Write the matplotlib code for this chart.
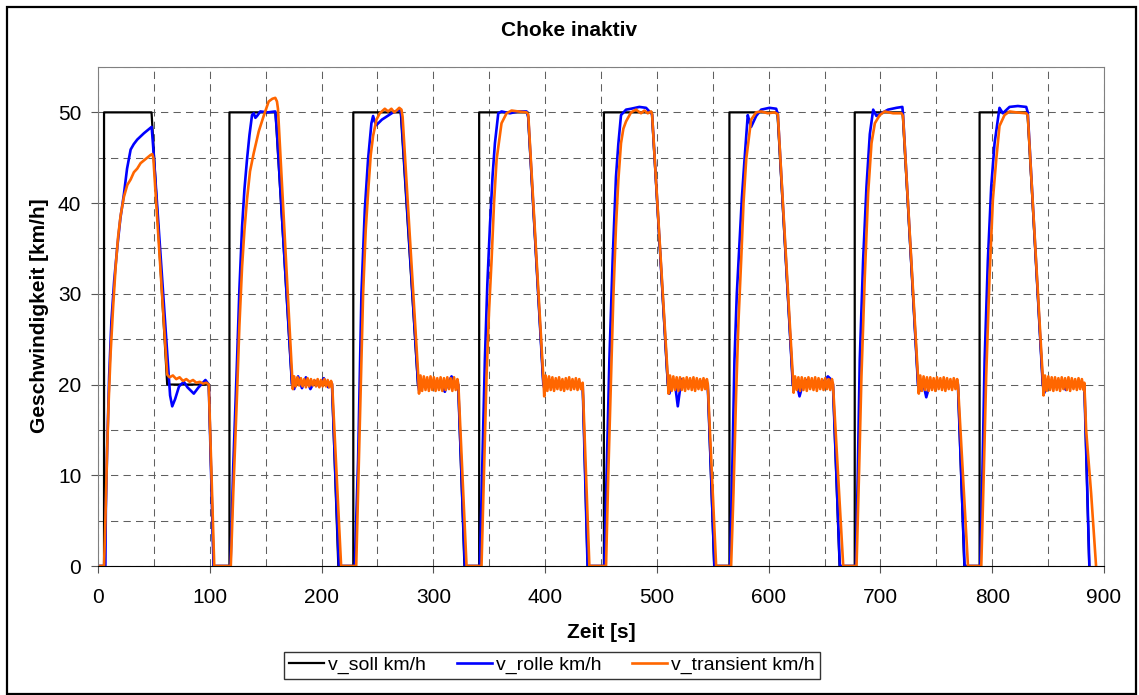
import matplotlib
matplotlib.use("Agg")
import matplotlib.pyplot as plt
import numpy as np
from matplotlib.patches import Rectangle
from matplotlib.ticker import MultipleLocator

plt.rcParams['font.family'] = ['Liberation Sans', 'DejaVu Sans']

# Sollgeschwindigkeit (t [s], v [km/h])
soll_pts = [
    (0, 0), (5.4, 0), (5.4, 50), (47.9, 50), (61.9, 20), (99.1, 20), (103.4, 0),
    (117.6, 0), (117.6, 50), (158.8, 50), (173.5, 20), (209.3, 20), (215.0, 0),
    (228.4, 0), (228.4, 50), (270.8, 50), (286.2, 20), (322.2, 20), (327.8, 0),
    (341.0, 0), (341.0, 50), (384.5, 50), (398.4, 20), (433.6, 20), (438.0, 0),
    (452.6, 0), (452.6, 50), (495.5, 50), (509.7, 20), (545.5, 20), (551.2, 0),
    (564.9, 0), (564.9, 50), (607.8, 50), (621.6, 20), (657.5, 20), (663.4, 0),
    (677.0, 0), (677.0, 50), (719.8, 50), (733.6, 20), (769.3, 20), (775.0, 0),
    (788.7, 0), (788.7, 50), (831.5, 50), (845.2, 20), (882.4, 20), (886.8, 0),
]

# Rollengeschwindigkeit
rolle_pts = [
    (0, 0), (6.6, 0), (7.0, 6.2), (8.2, 13.0), (10.0, 21.0), (12.0, 27.0), (14.5, 31.5),
    (17.3, 35.2), (20.0, 38.3), (23.2, 41.0), (26.0, 43.8), (29.2, 45.9), (32.0, 46.5),
    (35.1, 47.0), (41.1, 47.7), (45.0, 48.1), (48.0, 48.4), (49.2, 46.5), (64.5, 18.8),
    (66.4, 17.6), (69.0, 18.4), (72.5, 19.8), (76.8, 20.3), (80.0, 19.7), (85.7, 19.0),
    (90.0, 19.7), (96.1, 20.5), (99.1, 20.0), (103.4, 0), (118.5, 0),
    (121.0, 11.0), (124.4, 22.7), (126.5, 30.5), (128.9, 37.4), (131.0, 41.5), (133.3, 44.8),
    (135.5, 47.5), (137.8, 49.7), (139.3, 49.9), (140.8, 49.4), (142.3, 49.6), (145.2, 50.1),
    (152.0, 50.0), (158.6, 50.1), (160.0, 48.0), (173.5, 20.1), (175.5, 19.5), (179.0, 20.9),
    (182.5, 19.6), (186.0, 20.8), (190.0, 19.5), (194.0, 20.4), (198.0, 19.8), (202.0, 20.7),
    (206.0, 19.7), (209.3, 20.1), (215.5, 0), (229.7, 0),
    (232.7, 11.7), (235.7, 30.1), (238.7, 39.3), (241.6, 44.8), (244.6, 48.8), (246.1, 49.6),
    (247.5, 49.0), (249.1, 48.6), (254.0, 49.2), (259.0, 49.6), (264.0, 50.0), (268.0, 50.2),
    (270.5, 50.3), (271.5, 49.5), (286.4, 20.0), (287.3, 19.3), (290.0, 20.3), (295.0, 20.0),
    (300.0, 20.4), (305.0, 19.9), (308.5, 19.6), (310.3, 19.2), (312.5, 20.0), (316.3, 20.9),
    (319.0, 20.2), (322.2, 20.0), (328.2, 0), (341.6, 0),
    (343.8, 11.0), (346.1, 22.7), (348.3, 31.0), (350.6, 37.4), (353.0, 43.0), (355.1, 46.6),
    (358.1, 49.9), (361.0, 50.1), (368.5, 49.9), (376.0, 50.1), (383.4, 50.1), (384.9, 49.5),
    (398.4, 20.0), (400.0, 19.3), (403.0, 20.5), (410.0, 20.0), (420.0, 20.3), (430.0, 19.9),
    (433.6, 20.0), (438.0, 0), (453.0, 0),
    (455.0, 10.0), (457.5, 22.7), (459.0, 28.5), (460.4, 33.7), (463.4, 42.9), (465.5, 46.5),
    (467.9, 49.7), (472.4, 50.3), (476.9, 50.4), (484.3, 50.6), (490.3, 50.5), (493.3, 50.1),
    (495.7, 49.8), (509.7, 20.3), (511.2, 19.0), (513.5, 20.4), (516.5, 19.8), (518.7, 17.6),
    (520.5, 19.3), (522.5, 20.6), (525.0, 20.2), (530.0, 20.4), (535.0, 20.0), (540.0, 20.3),
    (545.5, 20.0), (551.5, 0), (565.5, 0),
    (567.5, 11.0), (569.4, 22.7), (571.5, 30.0), (573.9, 35.6), (576.0, 40.5), (578.4, 44.8),
    (581.3, 49.7), (582.8, 49.0), (584.3, 48.4), (588.8, 49.6), (593.3, 50.3), (600.7, 50.5),
    (606.7, 50.4), (608.2, 49.8), (621.6, 20.0), (622.5, 19.5), (625.0, 20.2), (627.6, 18.7),
    (630.0, 19.8), (633.0, 20.5), (640.0, 20.2), (647.0, 20.0), (653.0, 20.9), (655.5, 20.6),
    (657.5, 20.0), (663.7, 0), (678.0, 0),
    (679.7, 10.0), (681.5, 22.7), (684.5, 33.7), (687.5, 41.8), (690.5, 47.6), (693.5, 50.3),
    (696.4, 49.6), (700.9, 49.9), (706.8, 50.3), (714.3, 50.5), (719.6, 50.6), (720.2, 49.8),
    (733.6, 20.0), (735.0, 19.3), (738.0, 20.3), (741.0, 18.6), (743.0, 19.5), (746.0, 20.3),
    (752.0, 20.0), (758.0, 20.3), (764.0, 19.9), (769.3, 20.0), (775.3, 0), (789.3, 0),
    (791.2, 10.0), (793.2, 22.7), (796.1, 33.7), (799.1, 41.8), (802.1, 46.6), (806.5, 50.5),
    (809.5, 49.9), (815.5, 50.6), (822.9, 50.7), (830.4, 50.6), (831.8, 50.0), (845.2, 20.0),
    (846.7, 19.1), (849.0, 20.3), (855.0, 19.9), (860.0, 20.4), (866.0, 19.4), (868.0, 20.2),
    (875.0, 20.0), (882.4, 20.0), (886.9, 0),
]

# transiente Geschwindigkeit
trans_pts = [
    (0, 0), (5.4, 0), (6.6, 5.0), (8.0, 12.0), (9.5, 18.0), (11.3, 23.5), (13.5, 28.5),
    (15.8, 33.0), (18.0, 36.3), (20.2, 38.6), (23.2, 40.7), (26.2, 42.0), (29.2, 42.6),
    (32.1, 43.4), (35.1, 43.8), (38.1, 44.4), (41.1, 44.7), (44.0, 45.0), (47.0, 45.3),
    (48.5, 45.4), (49.5, 45.0), (61.9, 21.1), (64.0, 20.8), (67.0, 21.0), (70.0, 20.6),
    (73.0, 20.8), (76.0, 20.4), (79.0, 20.6), (82.0, 20.3), (85.0, 20.5), (88.0, 20.2),
    (91.0, 20.3), (94.0, 20.1), (97.0, 20.2), (99.1, 20.0), (104.0, 0), (118.8, 0),
    (121.0, 8.0), (124.4, 19.0), (126.5, 26.5), (128.9, 33.0), (131.0, 37.0), (133.3, 40.4),
    (136.0, 43.5), (139.3, 45.5), (143.8, 47.9), (148.2, 49.6), (152.7, 51.2), (156.0, 51.5),
    (158.6, 51.6), (160.1, 51.2), (161.0, 50.4), (173.5, 21.2), (174.3, 19.5), (175.5, 20.9),
    (177.0, 19.8), (178.5, 20.8), (180.0, 19.9), (181.5, 20.7), (183.0, 19.8), (184.5, 20.6),
    (186.0, 19.7), (187.5, 20.7), (189.0, 19.8), (190.5, 20.6), (192.0, 19.9), (193.5, 20.5),
    (195.0, 19.8), (196.5, 20.6), (198.0, 19.7), (199.5, 20.5), (201.0, 19.8), (202.5, 20.6),
    (204.0, 19.8), (205.5, 20.5), (207.0, 19.7), (208.5, 20.4), (209.5, 20.0), (217.5, 0),
    (231.0, 0),
    (234.2, 15.4), (237.2, 30.1), (239.5, 37.0), (241.6, 41.1), (244.0, 45.3), (246.1, 47.4),
    (249.1, 49.2), (252.1, 49.9), (256.6, 50.4), (259.5, 50.1), (262.5, 50.4), (265.0, 50.0),
    (267.0, 50.2), (269.5, 50.5), (271.5, 50.3), (272.5, 49.5), (286.4, 21.2), (287.2, 19.0),
    (288.5, 21.0), (290.0, 19.3), (291.5, 20.9), (293.0, 19.4), (294.5, 20.8), (296.0, 19.3),
    (297.5, 20.9), (299.0, 19.4), (300.5, 20.8), (302.0, 19.3), (303.5, 20.7), (305.0, 19.4),
    (306.5, 20.8), (308.0, 19.3), (309.5, 20.7), (311.0, 19.4), (312.5, 20.8), (314.0, 19.5),
    (315.5, 20.7), (317.0, 19.3), (318.5, 20.8), (320.0, 19.4), (321.5, 20.6), (322.4, 20.0),
    (329.7, 0), (343.1, 0),
    (345.3, 10.0), (347.6, 20.9), (349.8, 28.0), (352.1, 33.7), (354.3, 40.0), (356.6, 44.8),
    (361.0, 48.8), (365.5, 49.9), (370.0, 50.2), (376.0, 50.1), (383.4, 50.0), (384.9, 49.8),
    (398.4, 20.8), (399.2, 18.7), (400.5, 21.0), (402.0, 19.3), (403.5, 20.9), (405.0, 19.4),
    (406.5, 20.8), (408.0, 19.3), (409.5, 20.7), (411.0, 19.5), (412.5, 20.8), (414.0, 19.4),
    (415.5, 20.6), (417.0, 19.3), (418.5, 20.7), (420.0, 19.5), (421.5, 20.8), (423.0, 19.4),
    (424.5, 20.6), (426.0, 19.5), (427.5, 20.7), (429.0, 19.4), (430.5, 20.6), (432.0, 19.5),
    (433.6, 20.2), (439.6, 0), (454.5, 0),
    (456.5, 10.0), (459.0, 20.9), (461.0, 29.5), (463.4, 37.4), (465.5, 42.5), (467.9, 46.6),
    (470.0, 48.2), (472.4, 49.0), (476.9, 50.0), (481.3, 50.3), (485.8, 49.9), (488.8, 50.2),
    (491.8, 49.9), (494.8, 50.1), (495.7, 49.8), (509.7, 20.9), (510.4, 19.0), (511.7, 21.0),
    (513.2, 19.3), (514.7, 20.9), (516.2, 19.4), (517.7, 20.8), (519.2, 19.3), (520.7, 20.8),
    (522.2, 19.4), (523.7, 20.7), (525.2, 19.3), (526.7, 20.8), (528.2, 19.5), (529.7, 20.7),
    (531.2, 19.4), (532.7, 20.8), (534.2, 19.3), (535.7, 20.7), (537.2, 19.5), (538.7, 20.6),
    (540.2, 19.4), (541.7, 20.7), (543.2, 19.5), (544.7, 20.6), (545.5, 20.1), (553.0, 0),
    (566.4, 0),
    (568.5, 8.0), (570.9, 19.0), (573.0, 27.0), (575.4, 33.7), (577.5, 40.0), (579.9, 44.8),
    (584.3, 49.2), (588.8, 50.0), (593.3, 50.1), (599.3, 49.9), (605.2, 50.0), (608.2, 49.8),
    (621.6, 20.9), (622.3, 19.1), (623.6, 20.9), (625.1, 19.4), (626.6, 20.8), (628.1, 19.3),
    (629.6, 20.8), (631.1, 19.4), (632.6, 20.7), (634.1, 19.3), (635.6, 20.8), (637.1, 19.5),
    (638.6, 20.7), (640.1, 19.4), (641.6, 20.8), (643.1, 19.3), (644.6, 20.7), (646.1, 19.5),
    (647.6, 20.6), (649.1, 19.4), (650.6, 20.7), (652.1, 19.5), (653.6, 20.6), (655.1, 19.4),
    (656.6, 20.6), (657.5, 20.1), (666.7, 0), (678.6, 0),
    (680.8, 10.0), (683.0, 20.9), (686.0, 31.9), (689.0, 41.1), (692.0, 46.6), (695.0, 48.8),
    (699.4, 49.7), (703.9, 50.1), (711.3, 49.9), (718.8, 49.9), (720.2, 49.6), (733.6, 20.8),
    (734.3, 19.0), (735.6, 21.0), (737.1, 19.3), (738.6, 20.9), (740.1, 19.4), (741.6, 20.8),
    (743.1, 19.3), (744.6, 20.8), (746.1, 19.4), (747.6, 20.7), (749.1, 19.3), (750.6, 20.8),
    (752.1, 19.5), (753.6, 20.7), (755.1, 19.4), (756.6, 20.8), (758.1, 19.3), (759.6, 20.7),
    (761.1, 19.5), (762.6, 20.6), (764.1, 19.4), (765.6, 20.7), (767.1, 19.5), (768.6, 20.6),
    (769.3, 20.1), (778.3, 0), (790.2, 0),
    (792.4, 10.0), (794.6, 20.9), (797.6, 31.9), (800.6, 40.4), (803.6, 44.8), (806.5, 48.5),
    (811.0, 49.7), (815.5, 50.1), (821.4, 50.0), (830.4, 49.9), (831.8, 49.7), (845.2, 20.8),
    (845.9, 18.8), (847.2, 21.0), (848.7, 19.3), (850.2, 20.9), (851.7, 19.4), (853.2, 20.8),
    (854.7, 19.3), (856.2, 20.8), (857.7, 19.4), (859.2, 20.7), (860.7, 19.3), (862.2, 20.8),
    (863.7, 19.5), (865.2, 20.7), (866.7, 19.4), (868.2, 20.8), (869.7, 19.3), (871.2, 20.7),
    (872.7, 19.5), (874.2, 20.6), (875.7, 19.4), (877.2, 20.7), (878.7, 19.5), (880.2, 20.6),
    (881.7, 19.4), (882.4, 20.2), (884.0, 15.0), (888.5, 8.0), (892.9, 0),
]

labels = ['v_soll km/h', 'v_rolle km/h', 'v_transient km/h']
colors = ['#000000', '#0000FF', '#FF6600']

W, H = 1139, 695
fig = plt.figure(figsize=(W / 100, H / 100), dpi=100)
ax = fig.add_axes([98 / W, 1 - 566 / H, (1104 - 98) / W, (566 - 67) / H])

for pts, lab, col, lw in zip([soll_pts, rolle_pts, trans_pts], labels, colors, [1.6, 1.9, 1.9]):
    t, v = np.array(pts).T
    ax.plot(t, v, color=col, lw=lw, label=lab)

ax.set_xlim(0, 900)
ax.set_ylim(0, 55)
ax.xaxis.set_major_locator(MultipleLocator(100))
ax.xaxis.set_minor_locator(MultipleLocator(50))
ax.yaxis.set_major_locator(MultipleLocator(10))
ax.yaxis.set_minor_locator(MultipleLocator(5))
ax.set_axisbelow(True)
ax.grid(which='both', color='#606060', lw=0.75, linestyle=(0, (7, 5)))
ax.tick_params(which='major', direction='out', length=5, width=0.8, color='#555555',
               labelsize=15, pad=7)
ax.tick_params(axis='x', which='major', pad=11)
ax.tick_params(which='minor', length=0)
for side in ['left', 'top', 'right']:
    ax.spines[side].set_color('#808080')
ax.spines['bottom'].set_color('black')

fig.text(0.5, 1 - 30 / H, 'Choke inaktiv', ha='center', va='center',
         fontsize=15, fontweight='bold')
fig.text(601 / W, 1 - 632 / H, 'Zeit [s]', ha='center', va='center',
         fontsize=15, fontweight='bold')
fig.text(40 / W, 1 - 316 / H, 'Geschwindigkeit [km/h]', ha='center', va='center',
         rotation=90, fontsize=15, fontweight='bold')

handles, labs = ax.get_legend_handles_labels()
leg = fig.legend(handles, labs, loc='center', bbox_to_anchor=(552 / W, 1 - 665.5 / H),
                 ncol=3, fontsize=14, frameon=True, fancybox=False, edgecolor='black',
                 handlelength=1.8, handletextpad=0.2, columnspacing=1.6, borderpad=0.25)
leg.get_frame().set_linewidth(1.0)

fig.patches.append(Rectangle((7 / W, 1 / H), 1129 / W, 687 / H, transform=fig.transFigure,
                             fill=False, edgecolor='black', lw=1.6))

fig.savefig('out.png', dpi=100)
